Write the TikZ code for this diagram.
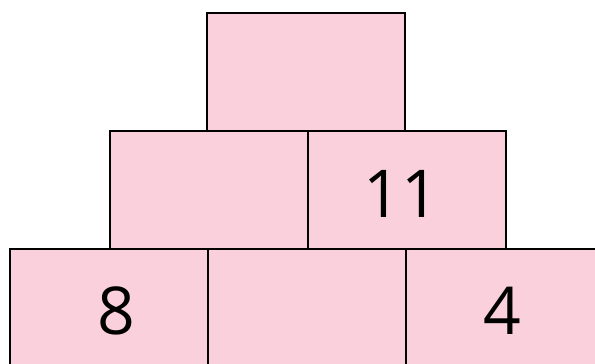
\documentclass[tikz,border=0pt]{standalone}
\usepackage{fontspec}
\setmainfont{Open Sans}
\usepackage{xcolor}
\usetikzlibrary{positioning}

\definecolor{cellpink}{HTML}{F9D0DC}

\begin{document}
\begin{tikzpicture}[
    x=1pt, y=-1pt,
    cell/.style={draw, line width=2pt, fill=cellpink, minimum width=198pt, minimum height=118pt, inner sep=0pt, outer sep=0pt},
    num/.style={font=\fontsize{66}{70}\selectfont, inner sep=0pt}
]
\useasboundingbox (0,0) rectangle (595,364);
\clip (0,0) rectangle (595,364);

% top row
\node[cell] (top) at (306,72) {};
% middle row
\node[cell, anchor=north east] (midL) at ([xshift=2pt]top.south) {};
\node[cell, right=0pt of midL] (midR) {};
% bottom row
\node[cell, anchor=north east] (botL) at ([xshift=-1pt]midL.south) {};
\node[cell, right=0pt of botL] (botM) {};
\node[cell, right=0pt of botM] (botR) {};

\node[num] (n11) at ([xshift=-6pt,yshift=-4pt]midR.center) {11};
\node[num] (n8) at ([xshift=7pt,yshift=-3pt]botL.center) {8};
\node[num] (n4) at ([xshift=-2.5pt,yshift=-3pt]botR.center) {4};
\end{tikzpicture}
\end{document}
